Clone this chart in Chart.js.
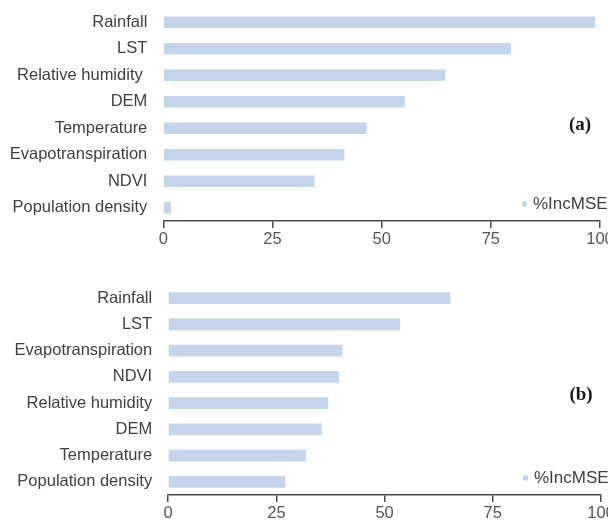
<!DOCTYPE html>
<html>
<head>
<meta charset="utf-8">
<script src="https://cdn.jsdelivr.net/npm/chart.js@4.4.1/dist/chart.umd.min.js"></script>
<style>
  html, body { margin: 0; padding: 0; background: #ffffff; }
  #wrap { position: relative; width: 608px; height: 523px; overflow: hidden; }
  canvas { position: absolute; left: 0; }
  #chartA { top: 0; }
  #chartB { top: 260px; }
</style>
</head>
<body>
<div id="wrap">
  <canvas id="chartA" width="608" height="260"></canvas>
  <canvas id="chartB" width="608" height="263"></canvas>
</div>
<script>
// Variable importance (%IncMSE) for the two random-forest models
const factorsA = ['Rainfall', 'LST', 'Relative humidity ', 'DEM', 'Temperature', 'Evapotranspiration', 'NDVI', 'Population density'];
const incMseA  = [98.8, 79.5, 64.5, 55.2, 46.5, 41.4, 34.5, 1.7];

const factorsB = ['Rainfall', 'LST', 'Evapotranspiration', 'NDVI', 'Relative humidity', 'DEM', 'Temperature', 'Population density'];
const incMseB  = [65.1, 53.5, 40.2, 39.4, 36.9, 35.4, 31.8, 27.0];

const xTickValues = [0, 25, 50, 75, 100];
const seriesName = '%IncMSE';
const panelTags = ['(a)', '(b)'];

const BAR_COLOR = '#c4d4eb';
const SANS = '"Liberation Sans", Arial, Helvetica, sans-serif';
const SERIF = '"Liberation Serif", "Times New Roman", serif';

Chart.defaults.font.family = SANS;

// Draws the legend key in the lower right of the plot and the panel tag
const panelDecor = {
  id: 'panelDecor',
  afterDraw(chart, args, opts) {
    const { ctx, chartArea } = chart;
    const ds = chart.data.datasets[0];
    ctx.save();
    const ky = chartArea.bottom - 17;
    ctx.fillStyle = ds.backgroundColor;
    ctx.fillRect(chartArea.right - 78, ky - 2.5, 5, 5);
    ctx.fillStyle = '#404040';
    ctx.font = '17px ' + SANS;
    ctx.textBaseline = 'middle';
    ctx.textAlign = 'left';
    ctx.fillText(ds.label, chartArea.right - 67, ky);

    ctx.font = 'bold 19px ' + SERIF;
    ctx.fillStyle = '#1a1a1a';
    ctx.textAlign = 'center';
    ctx.fillText(opts.tag, chartArea.right - 20, opts.tagY);
    ctx.restore();
  }
};

function makeChart(id, labels, values, tag, geom) {
  return new Chart(document.getElementById(id), {
    type: 'bar',
    data: {
      labels: labels,
      datasets: [{
        label: seriesName,
        data: values,
        backgroundColor: BAR_COLOR,
        borderWidth: 0,
        barThickness: 11
      }]
    },
    options: {
      indexAxis: 'y',
      responsive: false,
      animation: false,
      devicePixelRatio: 1,
      layout: { padding: { top: geom.padTop, right: geom.padRight, left: 0, bottom: 0 } },
      plugins: {
        legend: { display: false },
        tooltip: { enabled: false },
        panelDecor: { tag: tag, tagY: geom.tagY }
      },
      scales: {
        x: {
          min: 0,
          max: 100,
          afterBuildTicks: s => { s.ticks = xTickValues.map(v => ({ value: v })); },
          afterFit: s => { s.height = geom.xAxisHeight; s.paddingLeft = 0; s.paddingRight = 0; },
          grid: { drawOnChartArea: false, drawTicks: true, tickLength: 7, color: '#4a4a4a', lineWidth: 1.5 },
          border: { display: true, color: '#4a4a4a', width: 1.5 },
          ticks: { font: { size: 16.5 }, color: '#555555', padding: 2, maxRotation: 0, autoSkip: false }
        },
        y: {
          afterFit: s => { s.width = geom.yAxisWidth; s.paddingTop = 0; s.paddingBottom = 0; },
          grid: { display: false, drawTicks: false },
          border: { display: false },
          ticks: { font: { size: 16.5 }, color: '#404040', padding: 16, autoSkip: false }
        }
      }
    },
    plugins: [panelDecor]
  });
}

makeChart('chartA', factorsA, incMseA, panelTags[0],
  { yAxisWidth: 163.3, xAxisHeight: 39, padTop: 9, padRight: 8, tagY: 125 });
makeChart('chartB', factorsB, incMseB, panelTags[1],
  { yAxisWidth: 168.2, xAxisHeight: 28, padTop: 25, padRight: 7, tagY: 135 });
</script>
</body>
</html>
